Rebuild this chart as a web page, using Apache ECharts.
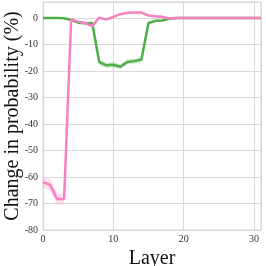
<!DOCTYPE html>
<html><head><meta charset="utf-8">
<script src="https://cdn.jsdelivr.net/npm/echarts@6/dist/echarts.min.js"></script>
<style>html,body{margin:0;padding:0;background:#fff}#c{width:266px;height:266px}</style>
</head><body><div id="c"></div>
<script>
const layers = Array.from({length:32},(_,i)=>i);
const greenMean = [0,0,0,-0.1,-0.8,-1.8,-2.0,-1.9,-16.7,-17.9,-17.7,-18.4,-16.6,-16.3,-15.7,-1.9,-1.1,-1.0,-0.2,0,0,0,0,0,0,0,0,0,0,0,0,0];
const greenErr  = [0.1,0.1,0.1,0.1,0.3,0.4,0.4,0.4,1.0,1.0,1.0,1.0,1.0,1.0,1.0,0.5,0.4,0.3,0.1,0.05,0.05,0.05,0.05,0.05,0.05,0.05,0.05,0.05,0.05,0.05,0.05,0.05];
const pinkMean  = [-62.0,-62.9,-68.3,-68.3,-0.6,-1.4,-1.9,-3.1,0.1,-0.6,0.4,1.4,1.9,2.0,2.0,0.9,0.6,0.4,-0.2,0,0,0,0,0,0,0,0,0,0,0,0,0];
const pinkErr   = [2.2,2.2,2.2,2.2,0.4,0.4,0.4,0.5,0.3,0.3,0.3,0.3,0.3,0.3,0.3,0.3,0.3,0.3,0.1,0.05,0.05,0.05,0.05,0.05,0.05,0.05,0.05,0.05,0.05,0.05,0.05,0.05];
const xTicks = [0,10,20,30];
const yTicks = [0,-10,-20,-30,-40,-50,-60,-70,-80];

const GREEN='#4daf4a', PINK='#f781bf';
function band(mean, err, color){
  const data = layers.map((l,i)=>[l, mean[i]-err[i], mean[i]+err[i]]);
  return {type:'custom', silent:true, data:data, encode:{x:0, y:[1,2]},
    renderItem:function(params, api){
      if (params.dataIndex !== 0) return null;
      const pts = [];
      for (let i=0;i<data.length;i++) pts.push(api.coord([data[i][0], data[i][2]]));
      for (let i=data.length-1;i>=0;i--) pts.push(api.coord([data[i][0], data[i][1]]));
      return {type:'polygon', shape:{points:pts}, style:{fill:color},
        clipPath:{type:'rect', shape:{x:params.coordSys.x, y:params.coordSys.y, width:params.coordSys.width, height:params.coordSys.height}}};
    }};
}
const font = '"Liberation Serif","DejaVu Serif",serif';
const chart = echarts.init(document.getElementById('c'), null, {renderer:'canvas'});
chart.setOption({
  animation:false,
  grid:{left:43, right:5, top:2, bottom:36, show:true, borderColor:'#d4d4d4', borderWidth:1,
        outerBoundsMode:'none', containLabel:false},
  xAxis:{type:'value', min:0, max:31, interval:10,
    name:'Layer', nameLocation:'middle', nameGap:19,
    nameTextStyle:{fontFamily:font, fontSize:20, color:'#111'},
    axisLine:{show:false}, axisTick:{show:false},
    axisLabel:{fontFamily:font, fontSize:10, color:'#333', margin:4,
      formatter:v=>xTicks.includes(v)?String(v):''},
    splitLine:{lineStyle:{color:'#d9d9d9', width:1}}},
  yAxis:{type:'value', min:-80, max:6, interval:10,
    name:'Change in probability (%)', nameLocation:'middle', nameGap:20, nameMoveOverlap:false,
    nameTextStyle:{fontFamily:font, fontSize:20, color:'#111'},
    axisLine:{show:false}, axisTick:{show:false},
    axisLabel:{fontFamily:font, fontSize:10, color:'#333', margin:5,
      formatter:v=>yTicks.includes(v)?String(v):''},
    splitLine:{lineStyle:{color:'#d9d9d9', width:1}}},
  series:[
    band(greenMean, greenErr, 'rgba(77,175,74,0.25)'),
    band(pinkMean, pinkErr, 'rgba(247,129,191,0.25)'),
    {type:'line', name:'green', symbol:'none', data: layers.map((l,i)=>[l,greenMean[i]]),
     lineStyle:{color:GREEN, width:2.5}},
    {type:'line', name:'pink', symbol:'none', data: layers.map((l,i)=>[l,pinkMean[i]]),
     lineStyle:{color:PINK, width:2.5}}
  ]
});
</script></body></html>
